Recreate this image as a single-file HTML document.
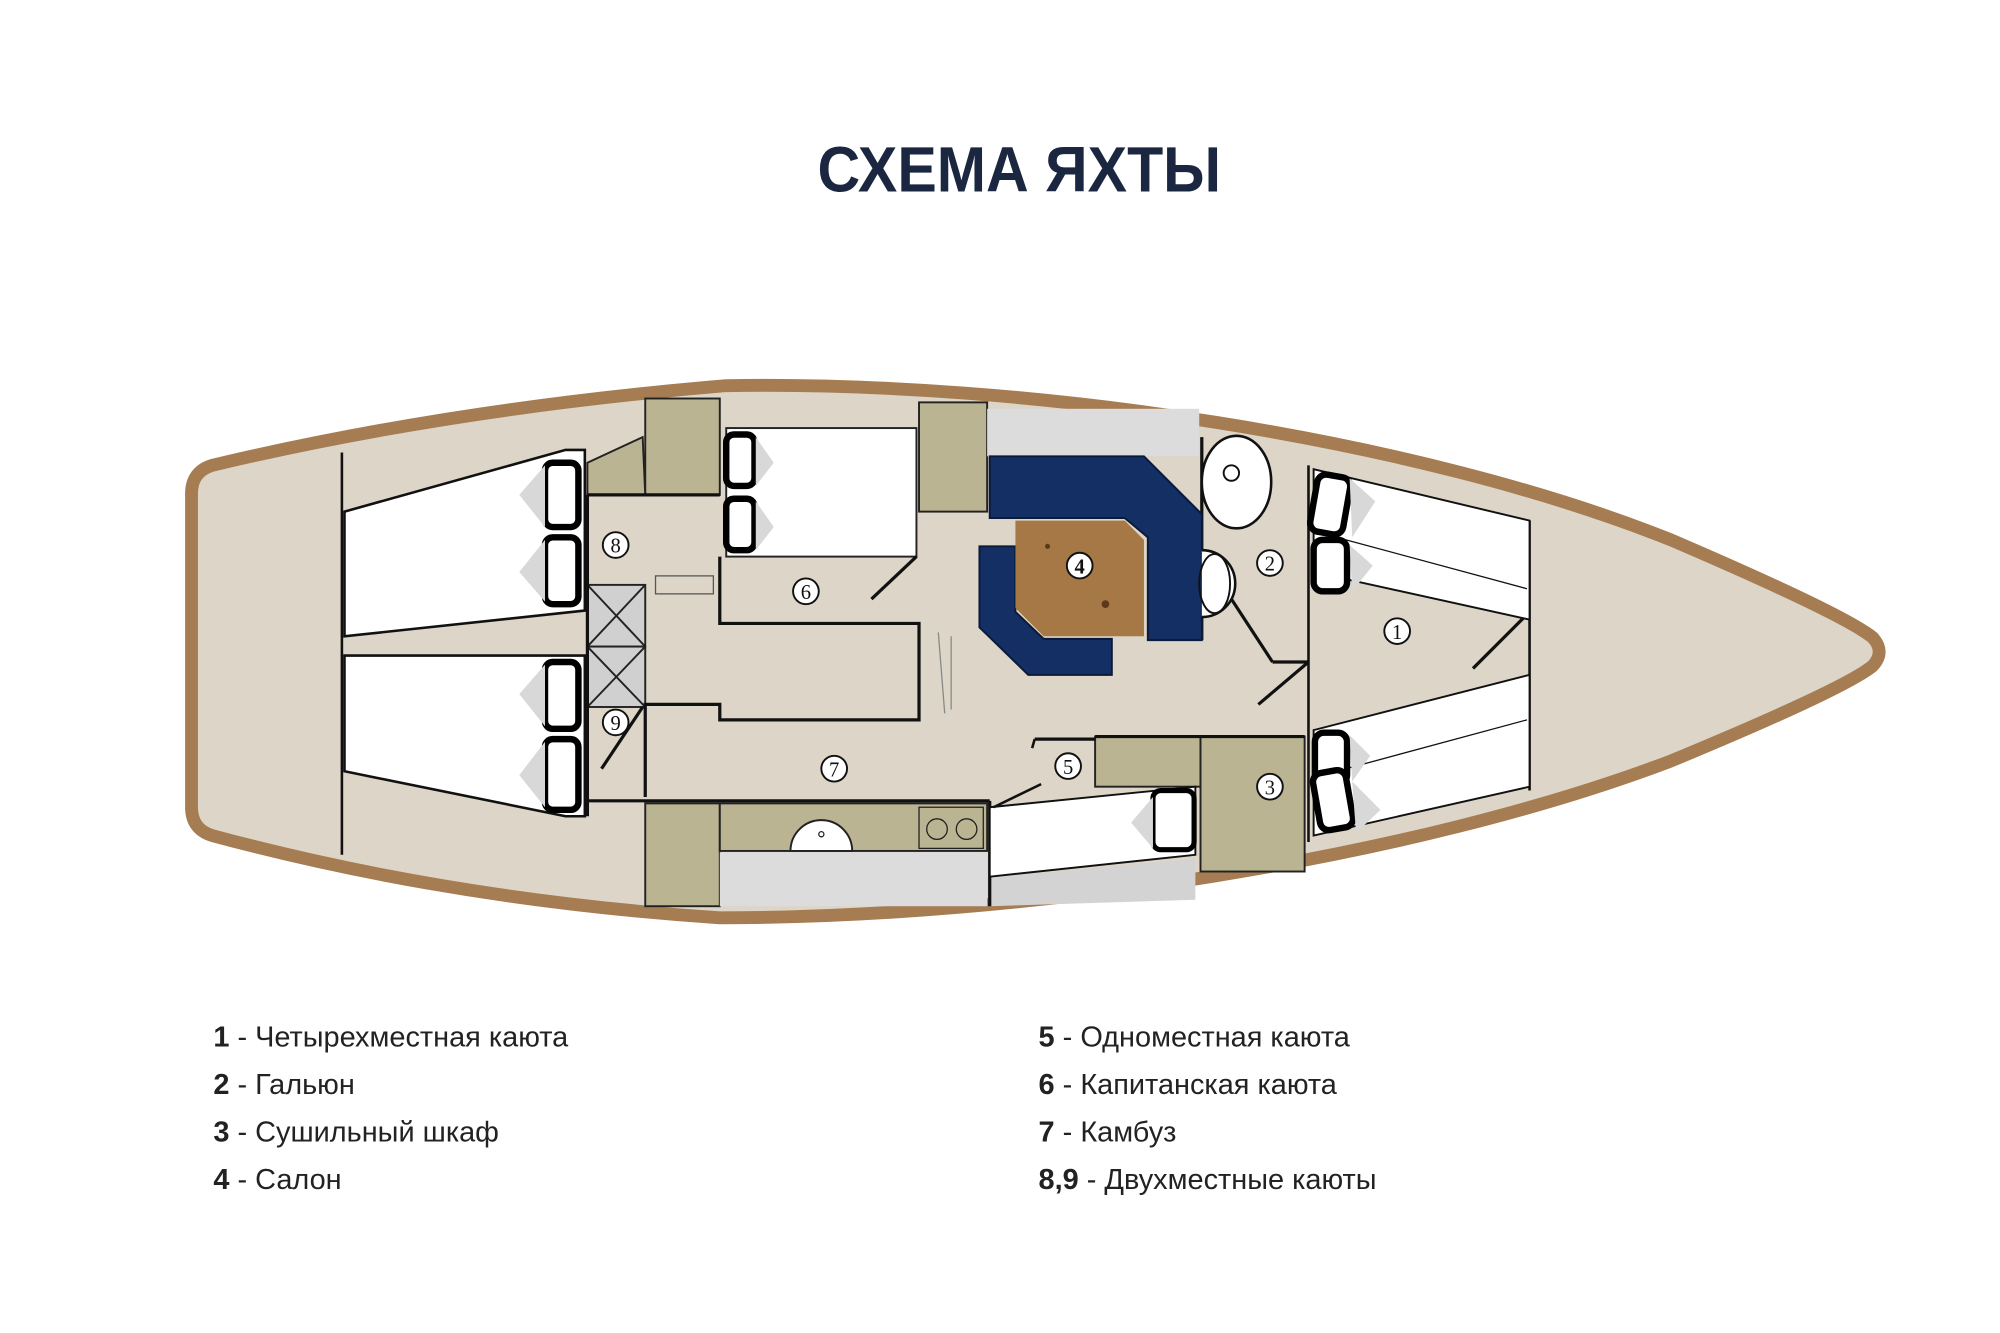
<!DOCTYPE html>
<html><head><meta charset="utf-8">
<style>
html,body{margin:0;padding:0;background:#fff;}
svg{display:block;}
</style></head>
<body>
<svg width="2000" height="1333" viewBox="0 0 1556 1037" xmlns="http://www.w3.org/2000/svg">
<rect width="1556" height="1037" fill="#fff"/>
<text x="793" y="149" text-anchor="middle" font-family="Liberation Sans, DejaVu Sans, sans-serif" font-weight="bold" font-size="50" fill="#1b2740" textLength="314" lengthAdjust="spacingAndGlyphs">СХЕМА ЯХТЫ</text>

<!-- hull -->
<path d="M165,362 Q350,318 565,300 C800,296 1100,340 1300,420 Q1435,478 1457,496 Q1467,507 1457,518 Q1435,536 1300,592 C1100,668 800,714 560,714 Q350,700 165,650 Q149,645 149,628 L149,384 Q149,367 165,362 Z" fill="#ddd5c7" stroke="#a67c52" stroke-width="10"/>

<g stroke="#111" stroke-width="2" fill="none">
<line x1="266" y1="352" x2="266" y2="665"/>
<line x1="1018" y1="362" x2="1018" y2="655"/>
<line x1="1190" y1="405" x2="1190" y2="615"/>
</g>

<!-- aft berths -->
<polygon points="268,398 440,350 455,350 455,475 268,495" fill="#fff" stroke="#111" stroke-width="2"/>
<polygon points="268,510 455,510 455,635 440,635 268,600" fill="#fff" stroke="#111" stroke-width="2"/>
<g fill="#fff" stroke="#000" stroke-width="5">
<rect x="424" y="360" width="26" height="50" rx="6"/>
<rect x="424" y="418" width="26" height="52" rx="6"/>
<rect x="424" y="515" width="26" height="52" rx="6"/>
<rect x="424" y="575" width="26" height="55" rx="6"/>
</g>
<g fill="#d8d8d8">
<polygon points="424,362 404,385 424,410"/><polygon points="424,420 404,445 424,468"/>
<polygon points="424,517 404,540 424,565"/><polygon points="424,577 404,603 424,628"/>
</g>

<!-- khaki lockers -->
<g fill="#bab493" stroke="#222" stroke-width="1.5">
<rect x="502" y="310" width="58" height="75"/>
<polygon points="457,360 500,340 502,385 457,385"/>
<rect x="715" y="313" width="53" height="85"/>
<rect x="502" y="625" width="58" height="80"/>
<rect x="560" y="625" width="208" height="37"/>
<rect x="852" y="573" width="82" height="39"/>
<rect x="934" y="573" width="81" height="105"/>
</g>
<!-- gray areas -->
<rect x="768" y="318" width="165" height="37" fill="#dcdcdc"/>
<rect x="560" y="663" width="208" height="42" fill="#dcdcdc"/>
<polygon points="770,683 930,668 930,700 770,705" fill="#d3d3d3"/>

<!-- galley sink/stove -->
<path d="M615,662 A24,24 0 0 1 663,662 Z" fill="#fff" stroke="#222" stroke-width="1.5"/>
<circle cx="639" cy="649" r="2" fill="none" stroke="#222"/>
<rect x="715" y="628" width="50" height="32" fill="#bab493" stroke="#222"/>
<circle cx="729" cy="645" r="8" fill="none" stroke="#222"/><circle cx="752" cy="645" r="8" fill="none" stroke="#222"/>

<!-- cross boxes -->
<g fill="#d0d0d0" stroke="#222" stroke-width="1.5">
<rect x="457" y="455" width="45" height="48"/><rect x="457" y="503" width="45" height="47"/>
<path d="M457,455 L502,503 M502,455 L457,503 M457,503 L502,550 M502,503 L457,550" fill="none"/>
</g>
<rect x="510" y="448" width="45" height="14" fill="none" stroke="#555" stroke-width="1"/>

<!-- captain berth -->
<rect x="565" y="333" width="148" height="100" fill="#fff" stroke="#222" stroke-width="1.5"/>
<g fill="#fff" stroke="#000" stroke-width="5"><rect x="565" y="338" width="22" height="40" rx="6"/><rect x="565" y="388" width="22" height="40" rx="6"/></g>
<g fill="#d8d8d8"><polygon points="588,340 602,360 588,378"/><polygon points="588,390 602,410 588,428"/></g>

<!-- walls -->
<g stroke="#111" stroke-width="2.5" fill="none">
<polyline points="560,433 560,485 715,485 715,560 560,560 560,548 502,548 502,620"/>
<line x1="457" y1="385" x2="560" y2="385"/>
<line x1="457" y1="385" x2="457" y2="635"/>
<line x1="713" y1="433" x2="678" y2="466"/>
<line x1="468" y1="598" x2="500" y2="550"/>
<line x1="457" y1="623" x2="770" y2="623"/>
<line x1="770" y1="623" x2="770" y2="705"/>
<line x1="935" y1="340" x2="935" y2="498"/>
<line x1="958" y1="466" x2="990" y2="515"/>
<line x1="990" y1="515" x2="1018" y2="515"/>
<line x1="1018" y1="515" x2="979" y2="548"/>
<line x1="1188" y1="478" x2="1146" y2="520"/>
<line x1="805" y1="575" x2="852" y2="575"/>
<line x1="852" y1="573" x2="1015" y2="573"/>
<line x1="730" y1="492" x2="735" y2="555" stroke="#888" stroke-width="1"/>
<line x1="740" y1="495" x2="740" y2="552" stroke="#888" stroke-width="1"/>
</g>

<!-- salon -->
<path d="M770,355 L890,355 L935,400 L935,498 L893,498 L893,418 L875,403 L770,403 Z" fill="#132f63" stroke="#0a1a3a" stroke-width="1.5"/>
<path d="M762,425 L790,425 L790,476 L812,497 L865,497 L865,525 L800,525 L762,488 Z" fill="#132f63" stroke="#0a1a3a" stroke-width="1.5"/>
<path d="M790,405 L875,405 L890,420 L890,495 L812,495 L790,473 Z" fill="#a57846"/>
<circle cx="815" cy="425" r="2" fill="#5a3a1a"/><circle cx="860" cy="470" r="3" fill="#5a3a1a"/>

<!-- head -->
<ellipse cx="962" cy="375" rx="27" ry="36" fill="#fff" stroke="#111" stroke-width="2"/>
<circle cx="958" cy="368" r="6" fill="none" stroke="#111" stroke-width="1.5"/>
<path d="M935,428 A25,25 0 0 1 935,480" fill="#fff" stroke="#111" stroke-width="2"/>
<ellipse cx="945" cy="454" rx="12" ry="23" fill="none" stroke="#111" stroke-width="1.5"/>

<!-- forward berths -->
<polygon points="1022,365 1190,405 1190,482 1022,445" fill="#fff" stroke="#111" stroke-width="1.5"/>
<line x1="1040" y1="418" x2="1188" y2="458" stroke="#111" stroke-width="1"/>
<polygon points="1022,568 1190,525 1190,612 1022,650" fill="#fff" stroke="#111" stroke-width="1.5"/>
<line x1="1040" y1="600" x2="1188" y2="560" stroke="#111" stroke-width="1"/>
<g fill="#fff" stroke="#000" stroke-width="5">
<rect x="1022" y="370" width="26" height="45" rx="7" transform="rotate(10 1035 392)"/>
<rect x="1022" y="420" width="26" height="40" rx="7"/>
<rect x="1023" y="570" width="25" height="40" rx="7"/>
<rect x="1024" y="600" width="26" height="45" rx="7" transform="rotate(-10 1037 622)"/>
</g>
<g fill="#d8d8d8">
<polygon points="1050,372 1070,390 1052,418"/><polygon points="1050,424 1068,440 1052,460"/>
<polygon points="1050,572 1066,588 1052,608"/><polygon points="1052,608 1074,630 1055,648"/>
</g>
<!-- cabin 5 berth -->
<polygon points="770,628 930,612 930,665 770,682" fill="#fff" stroke="#111" stroke-width="1.5"/>
<rect x="897" y="615" width="32" height="46" rx="6" fill="#fff" stroke="#000" stroke-width="4"/>
<polygon points="897,620 880,640 897,660" fill="#d8d8d8"/>
<line x1="805" y1="575" x2="803" y2="582" stroke="#111" stroke-width="2"/>
<line x1="773" y1="628" x2="810" y2="610" stroke="#111" stroke-width="2"/>

<!-- numbers -->
<g font-family="Liberation Serif, serif" font-size="16" text-anchor="middle" fill="#111">
<g fill="#fff" stroke="#111" stroke-width="1.5">
<circle cx="1087" cy="491" r="10"/><circle cx="988" cy="438" r="10"/><circle cx="988" cy="612" r="10"/>
<circle cx="840" cy="440" r="10"/><circle cx="831" cy="596" r="10"/><circle cx="627" cy="460" r="10"/>
<circle cx="649" cy="598" r="10"/><circle cx="479" cy="424" r="10"/><circle cx="479" cy="562" r="10"/>
</g>
<text x="1087" y="497">1</text><text x="988" y="444">2</text><text x="988" y="618">3</text>
<text x="840" y="446" font-weight="bold">4</text><text x="831" y="602">5</text><text x="627" y="466">6</text>
<text x="649" y="604">7</text><text x="479" y="430">8</text><text x="479" y="568">9</text>
</g>

<!-- legend -->
<g font-family="Liberation Sans, DejaVu Sans, sans-serif" font-size="22.5" fill="#222">
<text x="166" y="814"><tspan font-weight="bold">1</tspan> - Четырехместная каюта</text>
<text x="166" y="851"><tspan font-weight="bold">2</tspan> - Гальюн</text>
<text x="166" y="888"><tspan font-weight="bold">3</tspan> - Сушильный шкаф</text>
<text x="166" y="925"><tspan font-weight="bold">4</tspan> - Салон</text>
<text x="808" y="814"><tspan font-weight="bold">5</tspan> - Одноместная каюта</text>
<text x="808" y="851"><tspan font-weight="bold">6</tspan> - Капитанская каюта</text>
<text x="808" y="888"><tspan font-weight="bold">7</tspan> - Камбуз</text>
<text x="808" y="925"><tspan font-weight="bold">8,9</tspan> - Двухместные каюты</text>
</g>
</svg>
</body></html>
